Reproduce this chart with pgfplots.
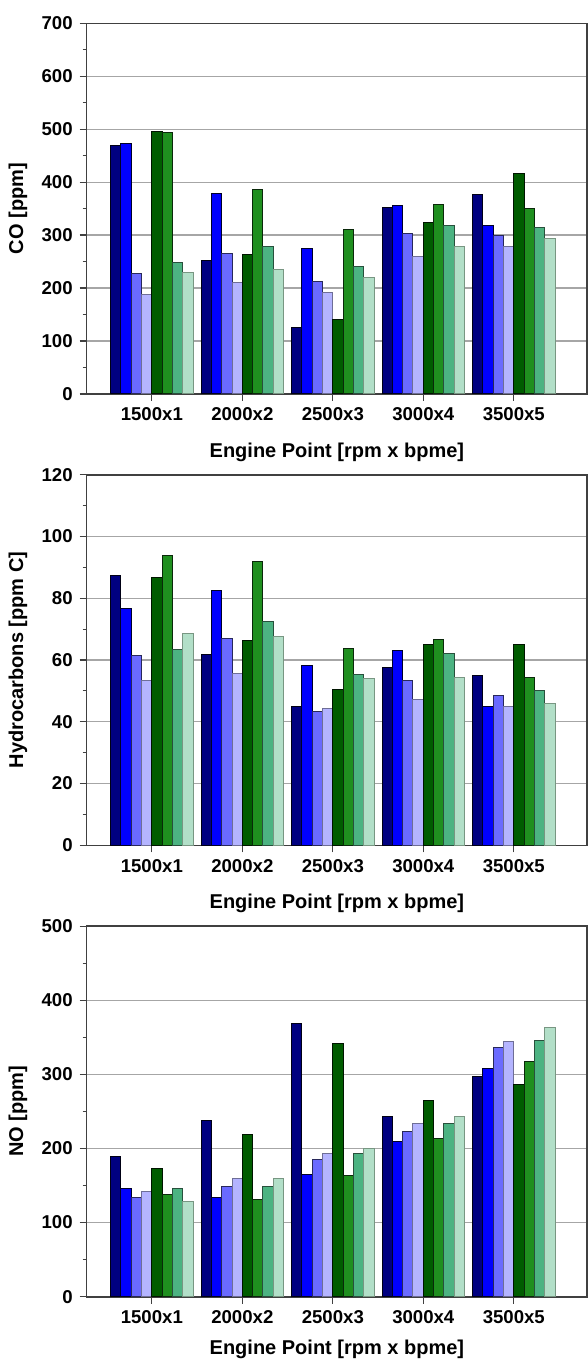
\documentclass[border=0pt]{standalone}
\usepackage{fontspec}
\setmainfont{Liberation Sans}
\usepackage{pgfplots}
\pgfplotsset{compat=1.18}
\definecolor{c1}{RGB}{0,0,128}
\definecolor{c2}{RGB}{0,0,255}
\definecolor{c3}{RGB}{106,106,255}
\definecolor{c4}{RGB}{180,180,255}
\definecolor{c5}{RGB}{0,92,0}
\definecolor{c6}{RGB}{31,143,31}
\definecolor{c7}{RGB}{76,179,130}
\definecolor{c8}{RGB}{178,223,200}
\definecolor{e1}{RGB}{0,0,20}
\definecolor{e2}{RGB}{0,0,40}
\definecolor{e3}{RGB}{40,40,90}
\definecolor{e4}{RGB}{110,110,150}
\definecolor{e5}{RGB}{0,20,0}
\definecolor{e6}{RGB}{10,40,10}
\definecolor{e7}{RGB}{40,80,60}
\definecolor{e8}{RGB}{120,150,130}
\pgfplotsset{
  myaxis/.style={
    scale only axis, width=250.2pt, height=185.3pt,
    xmin=-0.72, xmax=4.81,
    xtick={0,1,2,3,4},
    xticklabels={1500x1,2000x2,2500x3,3000x4,3500x5},
    ymin=0,
    ybar=0pt, bar width=5.16pt,
    tick pos=left, tick align=outside,
    major tick length=3.5pt, minor tick length=2pt,
    minor y tick num=1,
    ymajorgrids, grid style={black!35, line width=0.6pt},
    axis line style={line width=0.8pt, black!75},
    every tick/.style={black!75, line width=0.6pt},
    /pgf/number format/assume math mode=true,
    ticklabel style={font=\bfseries\fontsize{9.3}{10}\selectfont},
    label style={font=\bfseries\fontsize{10}{12}\selectfont},
    xlabel={Engine Point [rpm x bpme]},
    xlabel style={at={(axis description cs:0.5,0)}, yshift=-29pt, anchor=center},
    ylabel style={at={(axis description cs:-0.1373,0.5)}, anchor=center},
  },
  s1/.style={fill=c1, draw=e1, line width=0.5pt},
  s2/.style={fill=c2, draw=e2, line width=0.5pt},
  s3/.style={fill=c3, draw=e3, line width=0.5pt},
  s4/.style={fill=c4, draw=e4, line width=0.5pt},
  s5/.style={fill=c5, draw=e5, line width=0.5pt},
  s6/.style={fill=c6, draw=e6, line width=0.5pt},
  s7/.style={fill=c7, draw=e7, line width=0.5pt},
  s8/.style={fill=c8, draw=e8, line width=0.5pt},
}
\begin{document}
\begin{tikzpicture}
\path[use as bounding box] (-43.35pt,-483.05pt) rectangle (250.65pt,196.95pt);
% CO
\begin{axis}[myaxis, at={(0,0)}, anchor=south west,
  ymax=700, ytick={0,100,...,700}, ylabel={CO [ppm]}]
\addplot[s1] coordinates {(0,470) (1,252) (2,125) (3,353) (4,377)};
\addplot[s2] coordinates {(0,473) (1,379) (2,275) (3,356) (4,318)};
\addplot[s3] coordinates {(0,227) (1,265) (2,212) (3,303) (4,299)};
\addplot[s4] coordinates {(0,187) (1,210) (2,191) (3,260) (4,278)};
\addplot[s5] coordinates {(0,495) (1,264) (2,141) (3,323) (4,416)};
\addplot[s6] coordinates {(0,494) (1,386) (2,311) (3,358) (4,351)};
\addplot[s7] coordinates {(0,248) (1,278) (2,241) (3,319) (4,314)};
\addplot[s8] coordinates {(0,229) (1,235) (2,219) (3,278) (4,293)};
\end{axis}
% HC
\begin{axis}[myaxis, at={(0,-225.7pt)}, anchor=south west,
  ymax=120, ytick={0,20,...,120}, ylabel={Hydrocarbons [ppm C]}]
\addplot[s1] coordinates {(0,87.4) (1,61.8) (2,45.0) (3,57.7) (4,54.9)};
\addplot[s2] coordinates {(0,76.7) (1,82.5) (2,58.2) (3,63.0) (4,45.1)};
\addplot[s3] coordinates {(0,61.4) (1,66.9) (2,43.4) (3,53.5) (4,48.5)};
\addplot[s4] coordinates {(0,53.5) (1,55.6) (2,44.2) (3,47.2) (4,44.9)};
\addplot[s5] coordinates {(0,86.6) (1,66.4) (2,50.5) (3,65.0) (4,65.1)};
\addplot[s6] coordinates {(0,94.0) (1,92.0) (2,63.6) (3,66.6) (4,54.3)};
\addplot[s7] coordinates {(0,63.4) (1,72.4) (2,55.2) (3,62.2) (4,50.0)};
\addplot[s8] coordinates {(0,68.7) (1,67.7) (2,54.0) (3,54.4) (4,45.9)};
\end{axis}
% NO
\begin{axis}[myaxis, at={(0,-451.4pt)}, anchor=south west,
  ymax=500, ytick={0,100,...,500}, ylabel={NO [ppm]},
  xlabel style={yshift=2.5pt}]
\addplot[s1] coordinates {(0,188.8) (1,238.3) (2,368.3) (3,243.3) (4,297.7)};
\addplot[s2] coordinates {(0,146) (1,133.5) (2,165) (3,209) (4,308)};
\addplot[s3] coordinates {(0,134.4) (1,148.4) (2,185.3) (3,223.5) (4,335.9)};
\addplot[s4] coordinates {(0,142) (1,160) (2,193.8) (3,233.8) (4,344.4)};
\addplot[s5] coordinates {(0,173) (1,218.5) (2,341.3) (3,264.8) (4,286)};
\addplot[s6] coordinates {(0,138.5) (1,131.7) (2,163.2) (3,214) (4,317.4)};
\addplot[s7] coordinates {(0,146.6) (1,148.4) (2,193.8) (3,234.3) (4,345.8)};
\addplot[s8] coordinates {(0,129) (1,160) (2,199.6) (3,242.8) (4,363.8)};
\end{axis}
\end{tikzpicture}
\end{document}
